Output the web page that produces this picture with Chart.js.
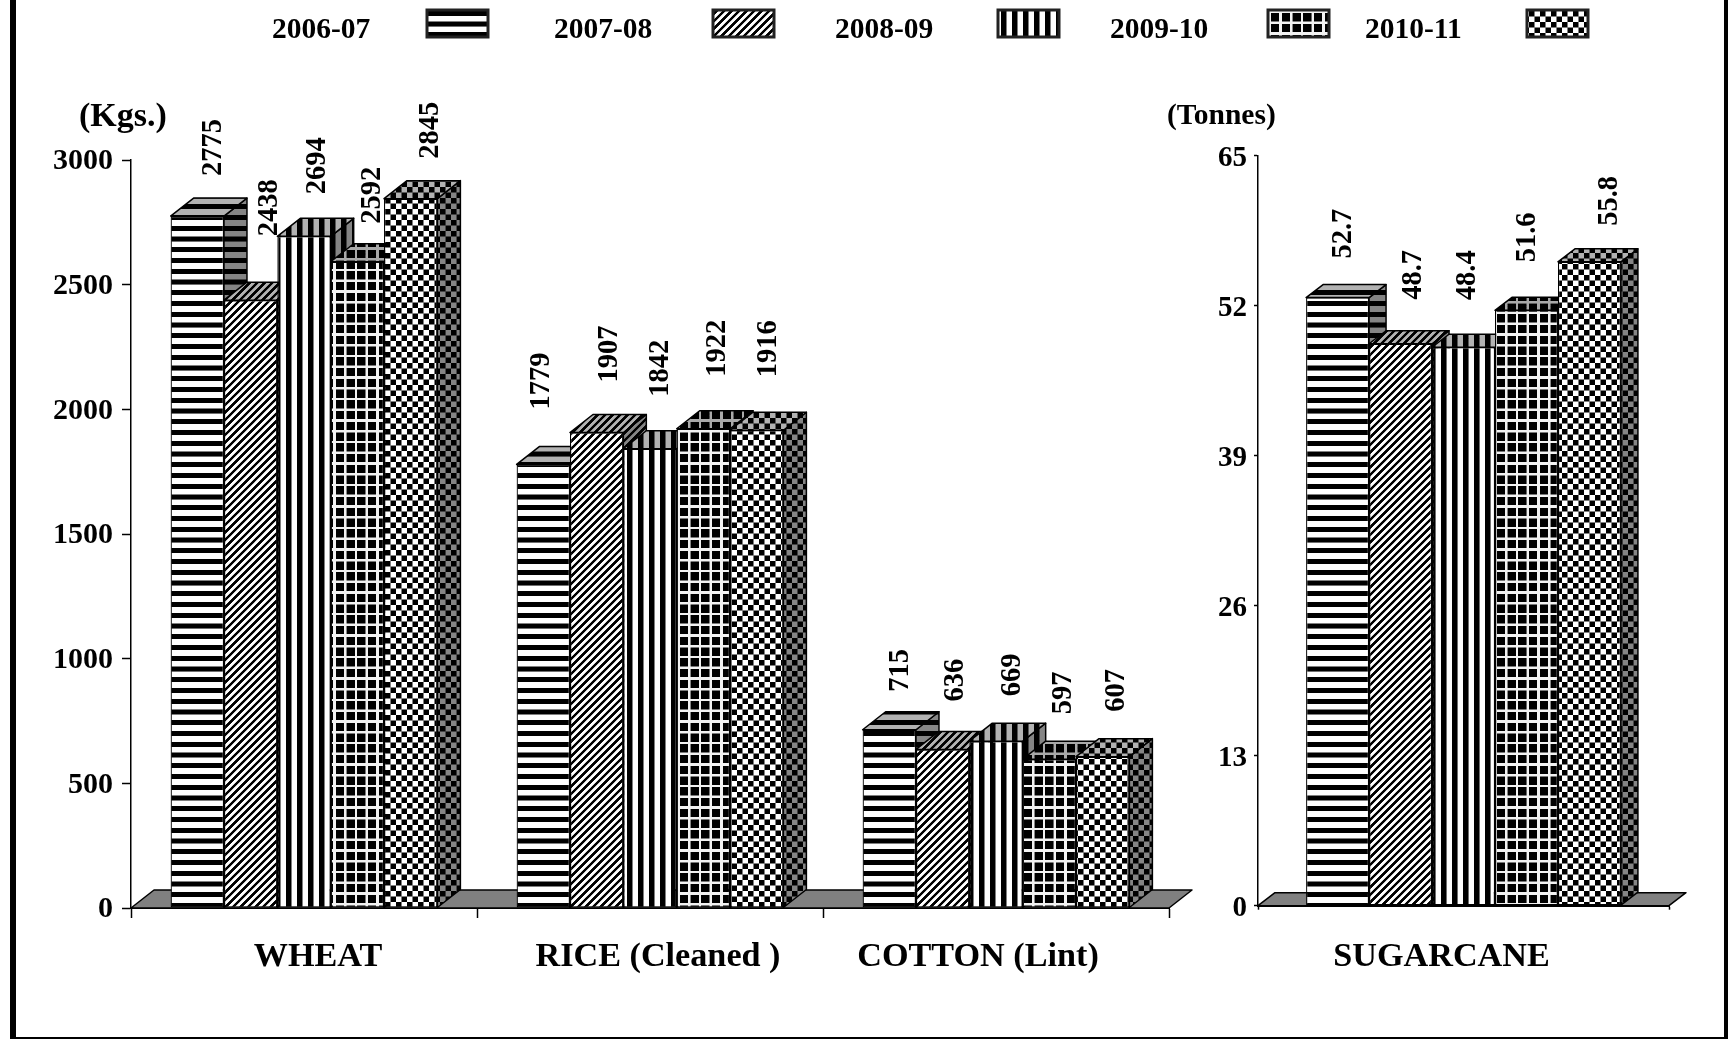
<!DOCTYPE html>
<html>
<head>
<meta charset="utf-8">
<title>Yield chart</title>
<style>
  html, body { margin: 0; padding: 0; background: #fff; overflow: hidden; }
  canvas { position: absolute; left: 0; top: 0; }
</style>
<script src="https://cdn.jsdelivr.net/npm/chart.js@4"></script>
</head>
<body>
<canvas id="chartKgs" width="1728" height="1039"></canvas>
<canvas id="chartTonnes" width="1728" height="1039"></canvas>
<script>
// data
const seriesNames = ["2006-07", "2007-08", "2008-09", "2009-10", "2010-11"];
const kgsCategories = ["WHEAT", "RICE (Cleaned )", "COTTON (Lint)"];
const kgs200607 = [2775, 1779, 715];
const kgs200708 = [2438, 1907, 636];
const kgs200809 = [2694, 1842, 669];
const kgs200910 = [2592, 1922, 597];
const kgs201011 = [2845, 1916, 607];
const kgsTicks = [0, 500, 1000, 1500, 2000, 2500, 3000];
const tonnesCategories = ["SUGARCANE"];
const sugarcane = [52.7, 48.7, 48.4, 51.6, 55.8];
const tonnesTicks = [0, 13, 26, 39, 52, 65];

const FONT = '"Liberation Serif", "Times New Roman", serif';

// the value labels were placed by hand in the original, [shift from bar centre, gap above bar]
const kgsLabelShift = [
  [[14, 40], [-4, 55], [9, 38]],
  [[17, 64], [11, 50], [11, 48]],
  [[12, 42], [9, 52], [15, 45]],
  [[13, 38], [12, 52], [12, 45]],
  [[18, 40], [10, 53], [12, 45]],
];
const tonnesLabelShift = [[[4, 39]], [[11, 44]], [[2, 47]], [[-1, 48]], [[18, 36]]];

function makePattern(size, paint) {
  const tile = document.createElement("canvas");
  tile.width = size;
  tile.height = size;
  const c = tile.getContext("2d");
  c.fillStyle = "#fff";
  c.fillRect(0, 0, size, size);
  c.fillStyle = "#000";
  c.strokeStyle = "#000";
  paint(c, size);
  const pattern = document.createElement("canvas").getContext("2d").createPattern(tile, "repeat");
  pattern.setTransform(new DOMMatrix().scale(0.25));
  return pattern;
}

const patterns = [
  makePattern(43, (c) => c.fillRect(0, 0, 43, 20)),
  makePattern(30, (c, s) => {
    c.lineWidth = s * 0.34;
    [[0, s, s, 0], [-s / 2, s / 2, s / 2, -s / 2], [s / 2, s * 1.5, s * 1.5, s / 2]].forEach((p) => {
      c.beginPath();
      c.moveTo(p[0], p[1]);
      c.lineTo(p[2], p[3]);
      c.stroke();
    });
  }),
  makePattern(44, (c) => c.fillRect(0, 0, 22, 44)),
  makePattern(43, (c, s) => {
    c.fillRect(0, 0, s, s);
    c.fillStyle = "#f2f2f2";
    c.fillRect(0, 0, s, 10);
    c.fillRect(0, 0, 10, s);
  }),
  makePattern(44, (c) => {
    c.fillRect(0, 0, 22, 22);
    c.fillRect(22, 22, 22, 22);
  }),
];

function poly(ctx, pts, pattern, shade) {
  ctx.beginPath();
  pts.forEach((p, i) => (i ? ctx.lineTo(p[0], p[1]) : ctx.moveTo(p[0], p[1])));
  ctx.closePath();
  ctx.fillStyle = pattern;
  ctx.fill();
  if (shade) {
    ctx.fillStyle = shade;
    ctx.fill();
  }
  ctx.stroke();
}

// floor, then each series left to right: side and top faces from the laid out bar
// elements and the front from the library. Chart.js normally paints the first dataset
// last, which would put the 3d faces in the wrong stacking order.
const faces3d = {
  id: "faces3d",
  beforeDatasetsDraw(chart, args, o) {
    const { ctx, chartArea: a } = chart;
    ctx.save();
    ctx.lineWidth = 1.5;
    ctx.strokeStyle = "#000";
    ctx.lineJoin = "round";
    poly(ctx, [[a.left, a.bottom], [a.left + o.dx, a.bottom - o.dy], [a.right + o.dx, a.bottom - o.dy], [a.right, a.bottom]], "#808080");
    chart.data.datasets.forEach((ds, i) => {
      const meta = chart.getDatasetMeta(i);
      meta.data.forEach((bar) => {
        const l = bar.x - bar.width / 2;
        const r = bar.x + bar.width / 2;
        poly(ctx, [[r, bar.y], [r + o.dx, bar.y - o.dy], [r + o.dx, bar.base - o.dy], [r, bar.base]], patterns[i], "rgba(0,0,0,0.48)");
        poly(ctx, [[l, bar.y], [l + o.dx, bar.y - o.dy], [r + o.dx, bar.y - o.dy], [r, bar.y]], patterns[i], "rgba(0,0,0,0.3)");
      });
      meta.controller.draw();
    });
    ctx.restore();
    return false;
  },
};

// rotated values, category names and the unit caption
const chartText = {
  id: "chartText",
  afterDraw(chart, args, o) {
    const ctx = chart.ctx;
    ctx.save();
    ctx.fillStyle = "#000";
    ctx.font = "bold 28.5px " + FONT;
    chart.data.datasets.forEach((ds, i) => {
      chart.getDatasetMeta(i).data.forEach((bar, j) => {
        const s = o.labelShift[i][j];
        ctx.save();
        ctx.translate(bar.x + s[0], bar.y - s[1]);
        ctx.rotate(-Math.PI / 2);
        ctx.textAlign = "left";
        ctx.textBaseline = "middle";
        ctx.fillText(String(ds.data[j]), 0, 2);
        ctx.restore();
      });
    });
    ctx.font = "bold 34.2px " + FONT;
    ctx.textAlign = "center";
    ctx.textBaseline = "alphabetic";
    chart.data.labels.forEach((label, j) => {
      ctx.fillText(label, chart.scales.x.getPixelForValue(j) + o.nameShift[j], o.nameY);
    });
    ctx.font = "bold " + o.unitSize + "px " + FONT;
    ctx.textAlign = "left";
    ctx.fillText(o.unit, o.unitX, o.unitY);
    ctx.restore();
  },
};

// legend runs text first then swatch, which the stock legend cannot do
const yearLegend = {
  id: "yearLegend",
  afterDraw(chart) {
    const ctx = chart.ctx;
    const textX = [272, 554, 835, 1110, 1365];
    const boxX = [427, 713, 998, 1268, 1527];
    ctx.save();
    ctx.font = "bold 29.5px " + FONT;
    ctx.textBaseline = "alphabetic";
    seriesNames.forEach((name, i) => {
      ctx.fillStyle = "#000";
      ctx.fillText(name, textX[i], 38);
      ctx.fillStyle = patterns[i];
      ctx.fillRect(boxX[i], 10, 61, 27);
      ctx.lineWidth = 3;
      ctx.strokeStyle = "#222";
      ctx.strokeRect(boxX[i], 10, 61, 27);
    });
    // page frame
    ctx.fillStyle = "#000";
    ctx.fillRect(10, 0, 6, 1039);
    ctx.fillRect(1724, 0, 4, 1039);
    ctx.fillRect(10, 1037, 1718, 2);
    ctx.restore();
  },
};

function drawChart(id, cfg) {
  return new Chart(document.getElementById(id), {
    type: "bar",
    data: {
      labels: cfg.labels,
      datasets: seriesNames.map((name, i) => ({
        label: name,
        data: cfg.values[i],
        backgroundColor: patterns[i],
        borderColor: "#000",
        borderWidth: 1.25,
        borderSkipped: false,
        categoryPercentage: cfg.catPct,
        barPercentage: 1,
      })),
    },
    plugins: cfg.plugins,
    options: {
      responsive: false,
      animation: false,
      layout: { autoPadding: false, padding: cfg.padding },
      plugins: {
        legend: { display: false },
        tooltip: { enabled: false },
        faces3d: cfg.depth,
        chartText: cfg.text,
      },
      scales: {
        x: {
          afterFit: (s) => { s.height = cfg.xHeight; },
          ticks: { display: false },
          grid: { drawOnChartArea: false, tickLength: cfg.xTick, tickColor: "#000", tickWidth: 1.5 },
          border: { color: "#000", width: 2 },
        },
        y: {
          min: 0,
          max: cfg.yTicks[cfg.yTicks.length - 1],
          afterFit: (s) => { s.width = cfg.yWidth; },
          afterBuildTicks: (s) => { s.ticks = cfg.yTicks.map((v) => ({ value: v })); },
          ticks: { color: "#000", padding: cfg.yPad, labelOffset: cfg.yLabelOffset, callback: (v) => String(v), font: { family: FONT, size: cfg.yFont, weight: "bold" } },
          grid: { drawOnChartArea: false, tickLength: cfg.yTick, tickColor: "#000", tickWidth: 1.5 },
          border: { color: "#000", width: 1.5 },
        },
      },
    },
  });
}

drawChart("chartKgs", {
  labels: kgsCategories,
  values: [kgs200607, kgs200708, kgs200809, kgs200910, kgs201011],
  catPct: 0.771,
  padding: { left: 0, right: 559, top: 160, bottom: 0 },
  xHeight: 131,
  yWidth: 131,
  xTick: 10,
  yTick: 9,
  yPad: 9,
  yFont: 30,
  yLabelOffset: 1.5,
  yTicks: kgsTicks,
  depth: { dx: 23, dy: 18 },
  text: { labelShift: kgsLabelShift, nameShift: [14, 8, -18], nameY: 966, unit: "(Kgs.)", unitSize: 34, unitX: 79, unitY: 126 },
  plugins: [faces3d, chartText, yearLegend],
});

drawChart("chartTonnes", {
  labels: tonnesCategories,
  values: sugarcane.map((v) => [v]),
  catPct: 0.766,
  padding: { left: 0, right: 59, top: 155.7, bottom: 0 },
  xHeight: 133.3,
  yWidth: 1258,
  xTick: 4,
  yTick: 4,
  yPad: 7,
  yFont: 29,
  yLabelOffset: 2.5,
  yTicks: tonnesTicks,
  depth: { dx: 17, dy: 13 },
  text: { labelShift: tonnesLabelShift, nameShift: [-22], nameY: 966, unit: "(Tonnes)", unitSize: 29.5, unitX: 1167, unitY: 124 },
  plugins: [faces3d, chartText],
});
</script>
</body>
</html>
